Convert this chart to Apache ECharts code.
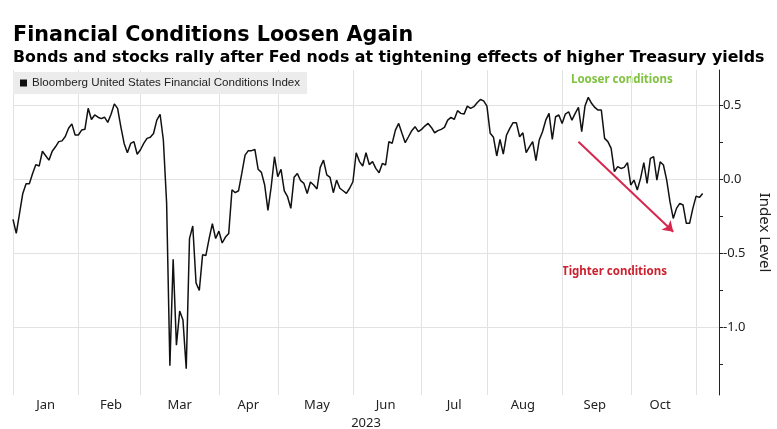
<!DOCTYPE html>
<html>
<head>
<meta charset="utf-8">
<script src="https://cdn.jsdelivr.net/npm/echarts@6/dist/echarts.min.js"></script>
<style>
  html, body { margin: 0; padding: 0; background: #ffffff; }
  #chart { width: 777px; height: 429px; }
</style>
</head>
<body>
<div id="chart"></div>
<script>
// ---------- data ----------
const titleText = 'Financial Conditions Loosen Again';
const subtitleText = 'Bonds and stocks rally after Fed nods at tightening effects of higher Treasury yields';
const seriesName = 'Bloomberg United States Financial Conditions Index';
const yearLabel = '2023';
const yAxisName = 'Index Level';

// daily (trading-day) index values, Jan 3 – early Nov 2023
const fci = [
  -0.27,-0.365,-0.23,-0.095,-0.03,-0.03,0.04,0.10,0.09,0.19,
  0.16,0.13,0.19,0.22,0.255,0.26,0.29,0.345,0.375,0.30,
  0.30,0.333,0.338,0.48,0.405,0.435,0.42,0.41,0.42,0.385,
  0.44,0.51,0.48,0.355,0.243,0.18,0.243,0.255,0.17,0.20,
  0.243,0.277,0.284,0.31,0.40,0.44,0.266,-0.16,-1.26,-0.54,
  -1.12,-0.89,-0.95,-1.28,-0.40,-0.315,-0.70,-0.75,-0.51,-0.515,
  -0.40,-0.30,-0.40,-0.35,-0.43,-0.39,-0.365,-0.07,-0.09,-0.077,
  0.04,0.164,0.194,0.194,0.203,0.068,0.047,-0.038,-0.21,-0.05,
  0.153,0.018,0.068,-0.077,-0.117,-0.196,0.014,0.04,-0.009,-0.027,
  -0.095,-0.018,-0.038,-0.065,0.081,0.13,0.03,0.014,-0.09,-0.005,
  -0.06,-0.077,-0.095,-0.06,-0.016,0.18,0.12,0.09,0.18,0.10,
  0.12,0.074,0.045,0.108,0.097,0.255,0.243,0.333,0.378,0.311,
  0.248,0.288,0.329,0.356,0.322,0.338,0.36,0.378,0.351,0.315,
  0.329,0.338,0.351,0.40,0.419,0.405,0.464,0.446,0.441,0.495,
  0.48,0.491,0.518,0.54,0.53,0.495,0.311,0.284,0.158,0.27,
  0.171,0.30,0.345,0.383,0.383,0.288,0.315,0.18,0.22,0.255,
  0.126,0.266,0.322,0.40,0.446,0.27,0.423,0.435,0.378,0.441,
  0.457,0.40,0.446,0.486,0.322,0.495,0.554,0.514,0.486,0.468,
  0.468,0.277,0.255,0.209,0.052,0.086,0.074,0.081,0.113,-0.038,
  -0.005,-0.072,0.007,0.113,-0.027,0.142,0.153,-0.005,0.119,0.097,
  -0.005,-0.151,-0.264,-0.196,-0.162,-0.173,-0.297,-0.297,-0.196,-0.113,
  -0.122,-0.095
];

// month tick labels (trading-day index of month middle) and month boundaries
const monthNames  = ['Jan','Feb','Mar','Apr','May','Jun','Jul','Aug','Sep','Oct'];
const monthMidIdx = [10, 30, 51, 72, 93, 114, 135, 156, 178, 198];
const monthStartIdx = [0, 20, 39, 63, 81, 104, 125, 145, 168, 189, 209];

// y axis ticks / labels / grid
const yTickValues  = [-1.25, -1, -0.75, -0.5, -0.25, 0, 0.25, 0.5];
const yLabelValues = [-1, -0.5, 0, 0.5];
const yGridValues  = [-1, -0.5, 0, 0.5];

// annotation arrow (trading-day index, value)
const arrowStart = [173, 0.254];
const arrowEnd   = [202, -0.354];
const looserText = 'Looser conditions';
const tighterText = 'Tighter conditions';

// ---------- layout ----------
const totalSlots = 217;   // trading-day slots spanned by the plot width
const yMin = -1.457, yMax = 0.739;

const cats = [];
for (let i = 0; i < totalSlots; i++) cats.push(String(i));
const midLookup = {};
monthMidIdx.forEach((d, k) => { midLookup[d] = monthNames[k]; });
const startSet = new Set(monthStartIdx);

const chart = echarts.init(document.getElementById('chart'), null, { renderer: 'canvas' });

const gridColor = '#e2e2e2';
const textColor = '#222222';

chart.setOption({
  animation: false,
  backgroundColor: '#ffffff',
  title: {
    text: titleText,
    subtext: subtitleText,
    left: 13,
    top: 25,
    padding: 0,
    itemGap: 4,
    textStyle: { fontFamily: 'DejaVu Sans', fontWeight: 'bold', fontSize: 20.7, color: '#000' },
    subtextStyle: { fontFamily: 'DejaVu Sans', fontWeight: 'bold', fontSize: 15.8, color: '#000' }
  },
  legend: {
    data: [seriesName],
    left: 13,
    top: 72,
    padding: [5, 7, 5, 7],
    backgroundColor: '#ececec',
    icon: 'rect',
    itemWidth: 7,
    itemHeight: 7,
    itemGap: 4,
    selectedMode: false,
    textStyle: { fontFamily: 'Liberation Sans', fontSize: 11.6, color: textColor }
  },
  grid: { left: 13, right: 58, top: 70, bottom: 34, containLabel: false, outerBoundsMode: 'none' },
  xAxis: {
    type: 'category',
    data: cats,
    boundaryGap: false,
    axisLine: { show: false },
    axisTick: { show: false },
    axisLabel: {
      interval: (idx) => midLookup[idx] !== undefined,
      formatter: (v, idx) => midLookup[idx] || '',
      color: textColor,
      fontFamily: 'Noto Sans',
      fontSize: 13,
      margin: 4
    },
    splitLine: {
      show: true,
      interval: (idx) => startSet.has(idx),
      lineStyle: { color: gridColor, width: 1 }
    },
    name: yearLabel,
    nameLocation: 'middle',
    nameGap: 17,
    nameTextStyle: { color: textColor, fontFamily: 'Noto Sans', fontSize: 13 }
  },
  yAxis: [
    {
      type: 'value',
      position: 'right',
      min: yMin,
      max: yMax,
      axisLine: { show: true, lineStyle: { color: '#222', width: 1 } },
      axisTick: { show: true, customValues: yTickValues, length: 4, lineStyle: { color: '#222' } },
      axisLabel: {
        customValues: yLabelValues,
        formatter: (v) => Number(v).toFixed(1),
        color: textColor,
        fontFamily: 'Noto Sans',
        fontSize: 13,
        margin: 4
      },
      splitLine: { show: false },
      name: yAxisName,
      nameLocation: 'middle',
      nameRotate: -90,
      nameGap: 34,
      nameTextStyle: { color: textColor, fontFamily: 'Noto Sans', fontSize: 15 }
    },
    {
      type: 'value',
      position: 'left',
      min: yMin,
      max: yMax,
      axisLine: { show: false },
      axisTick: { show: false, customValues: yGridValues },
      axisLabel: { show: false, customValues: yGridValues },
      splitLine: { show: true, lineStyle: { color: gridColor, width: 1 } }
    }
  ],
  series: [
    {
      name: seriesName,
      type: 'line',
      yAxisIndex: 0,
      data: fci,
      showSymbol: false,
      symbol: 'none',
      itemStyle: { color: '#111' },
      lineStyle: { color: '#111', width: 1.5 },
      markLine: {
        silent: true,
        symbol: ['none', 'arrow'],
        symbolSize: 10,
        label: { show: false },
        emphasis: { disabled: true },
        lineStyle: { color: '#d6284e', width: 2, type: 'solid' },
        data: [[
          { coord: [String(arrowStart[0]), arrowStart[1]], symbol: 'none' },
          { coord: [String(arrowEnd[0]), arrowEnd[1]], symbol: 'arrow', symbolSize: 10 }
        ]]
      }
    }
  ],
  graphic: [
    {
      type: 'text', left: 571, top: 74, silent: true,
      style: { text: looserText, fill: '#80c342', font: 'bold 11.5px "Noto Sans"' }
    },
    {
      type: 'text', left: 562, top: 266, silent: true,
      style: { text: tighterText, fill: '#cc2230', font: 'bold 11.5px "Noto Sans"' }
    }
  ]
});
</script>
</body>
</html>
